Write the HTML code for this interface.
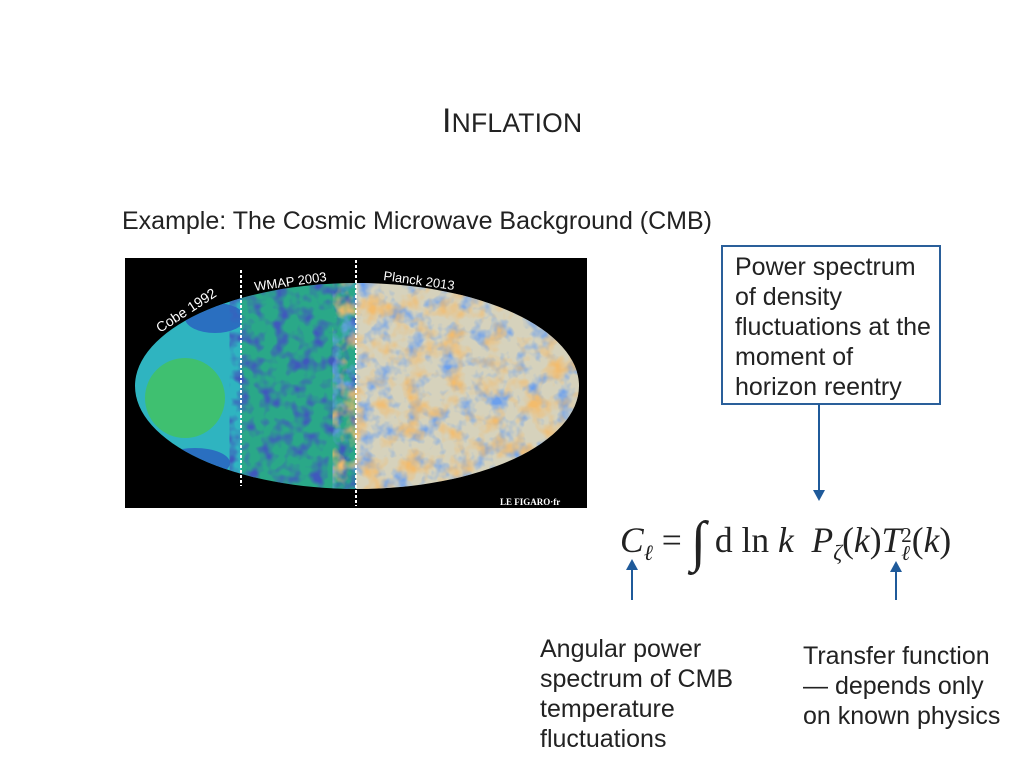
<!DOCTYPE html>
<html><head><meta charset="utf-8"><style>
body{margin:0;width:1024px;height:768px;background:#fff;position:relative;font-family:"Liberation Sans",sans-serif;overflow:hidden}
.t{position:absolute;color:#222;white-space:nowrap}
</style></head><body>
<div class="t" style="left:442px;top:102px;font-size:34px;letter-spacing:0.2px">I<span style="font-size:26.5px">NFLATION</span></div>
<div class="t" style="left:122px;top:207px;font-size:25px">Example: The Cosmic Microwave Background (CMB)</div>
<svg style="position:absolute;left:125px;top:258px" width="462" height="250">
<defs>
<clipPath id="e"><ellipse cx="232" cy="128" rx="222" ry="103"/></clipPath>
<filter id="n"><feTurbulence type="fractalNoise" baseFrequency="0.06" numOctaves="3" seed="3"/><feColorMatrix values="0 0 0 0 0.15  0 0 0 0 0.35  0 0 0 0 0.85  0 0 0 2.6 -1.2"/></filter>
<filter id="n2"><feTurbulence type="fractalNoise" baseFrequency="0.05" numOctaves="3" seed="7"/><feColorMatrix values="0 0 0 0 0.9  0 0 0 0 0.5  0 0 0 0 0.15  0 0 0 2.6 -1.2"/></filter>
<filter id="n3"><feTurbulence type="fractalNoise" baseFrequency="0.08" numOctaves="2" seed="9"/><feColorMatrix values="0 0 0 0 0.05  0 0 0 0 0.1  0 0 0 0 0.5  0 0 0 2.8 -1.2"/></filter>
</defs>
<rect width="462" height="250" fill="#000"/>
<g clip-path="url(#e)">
<rect x="0" y="0" width="116" height="250" fill="#2fb4c0"/>
<ellipse cx="60" cy="140" rx="40" ry="40" fill="#3fc070"/>
<ellipse cx="90" cy="60" rx="30" ry="15" fill="#2a6fc0"/>
<ellipse cx="70" cy="205" rx="35" ry="15" fill="#2a6fc0"/>
<rect x="116" y="0" width="115" height="250" fill="#2aa888"/>
<rect x="116" y="0" width="115" height="250" filter="url(#n3)"/>
<rect x="231" y="0" width="231" height="250" fill="#d6d2bc"/>
<rect x="231" y="0" width="231" height="250" filter="url(#n)"/>
<rect x="231" y="0" width="231" height="250" filter="url(#n2)"/>
</g>
<line x1="116" y1="12" x2="116" y2="228" stroke="#fff" stroke-width="2" stroke-dasharray="3,2"/>
<line x1="231" y1="2" x2="231" y2="248" stroke="#fff" stroke-width="2" stroke-dasharray="3,2"/>
<text x="35" y="75" fill="#fff" font-size="14" transform="rotate(-33 35 75)" font-family="Liberation Sans">Cobe 1992</text>
<text x="130" y="33" fill="#fff" font-size="13" transform="rotate(-8 130 33)" font-family="Liberation Sans">WMAP 2003</text>
<text x="258" y="22" fill="#fff" font-size="13" transform="rotate(8 258 22)" font-family="Liberation Sans">Planck 2013</text>
<text x="375" y="247" fill="#fff" font-size="9" font-weight="bold" font-family="Liberation Serif">LE FIGARO·fr</text>
</svg>
<div style="position:absolute;left:721px;top:245px;width:216px;height:156px;border:2px solid #2a5f9a"></div>
<div class="t" style="left:735px;top:252px;font-size:25px;line-height:30px">Power spectrum<br>of density<br>fluctuations at the<br>moment of<br>horizon reentry</div>
<svg style="position:absolute;left:0;top:0" width="1024" height="768">
<g fill="#1f5a9a" stroke="#1f5a9a" stroke-width="2">
<line x1="819" y1="404" x2="819" y2="492"/><polygon points="813,490 825,490 819,501" stroke="none"/>
<line x1="632" y1="600" x2="632" y2="568"/><polygon points="626,570 638,570 632,559" stroke="none"/>
<line x1="896" y1="600" x2="896" y2="570"/><polygon points="890,572 902,572 896,561" stroke="none"/>
</g></svg>
<div class="t" style="left:620px;top:502px;font-size:35.5px;font-family:'Liberation Serif',serif"><i>C</i><sub style="font-size:22px"><i>ℓ</i></sub> = <span style="font-size:56px;position:relative;top:8px">∫</span> d ln <i>k</i> &nbsp;<i>P</i><sub style="font-size:22px"><i>ζ</i></sub>(<i>k</i>)<i>T</i><span style="display:inline-block;font-size:21px;line-height:18px;vertical-align:middle"><span style="display:block">2</span><i>ℓ</i></span>(<i>k</i>)</div>
<div class="t" style="left:540px;top:634px;font-size:25px;line-height:30px">Angular power<br>spectrum of CMB<br>temperature<br>fluctuations</div>
<div class="t" style="left:803px;top:641px;font-size:25px;line-height:30px">Transfer function<br>— depends only<br>on known physics</div>
</body></html>
